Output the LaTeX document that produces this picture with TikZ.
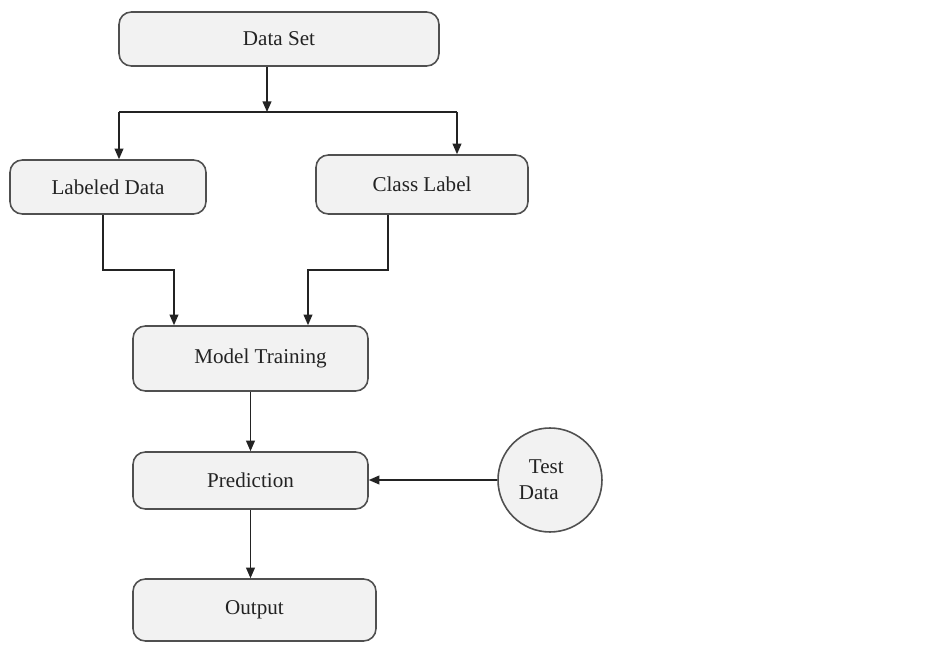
\documentclass[tikz,border=0pt]{standalone}
\usepackage{fontspec}
\setmainfont{Liberation Serif}
\usepackage{xcolor}
\usetikzlibrary{arrows.meta, positioning}
\definecolor{boxfill}{RGB}{242,242,242}
\definecolor{boxline}{RGB}{80,80,80}
\definecolor{inkgray}{RGB}{35,35,35}

\tikzset{
  flowbox/.style={draw=boxline, fill=boxfill, line width=0.9pt, rounded corners=7pt,
    font=\fontsize{12}{14}\selectfont, text=inkgray, inner sep=0pt},
  flowarrow/.style={-{Triangle[length=6pt, width=5pt]}, inkgray, line width=0.8pt}
}

\begin{document}
\begin{tikzpicture}[x=0.02cm, y=-0.02cm]
        \useasboundingbox (0,0) rectangle (931,651);
        % Boxes
        \node[flowbox, minimum width=6.4cm, minimum height=1.08cm] (dset) at (279,39) {Data Set};
        \node[flowbox, minimum width=3.92cm, minimum height=1.08cm] (ldata) at (108,187) {Labeled Data};
        \node[flowbox, minimum width=4.24cm, minimum height=1.18cm] (clabel) at (422,184.5) {Class Label};
        \node[flowbox, minimum width=4.7cm, minimum height=1.3cm] (mtrain) at (250.5,358.5) {\hspace{0.4cm}Model Training};
        \node[flowbox, minimum width=4.7cm, minimum height=1.14cm] (pred) at (250.5,480.5) {Prediction};
        \node[flowbox, minimum width=4.86cm, minimum height=1.24cm] (outp) at (254.5,610) {Output};
        % Test data circle
        \node[flowbox, circle, minimum size=2.08cm, align=left,
          font=\fontsize{12}{15}\selectfont] (tdata) at (550,480) {\hspace{-0.35cm}\hspace{0.2cm}Test\\\hspace{-0.35cm}Data};
        % Split below data set
        \coordinate (split) at (267,112);
        \coordinate (lsplit) at (119,112);
        \coordinate (rsplit) at (457,112);
        \draw[flowarrow] (dset.south -| split) -- (split);
        \draw[inkgray, line width=0.8pt] (lsplit) -- (rsplit);
        \draw[flowarrow] (lsplit) -- (lsplit |- ldata.north);
        \draw[flowarrow] (rsplit) -- (rsplit |- clabel.north);
        % Join into model training
        \coordinate (lbend) at (103,270);
        \coordinate (lin) at (174,270);
        \coordinate (rbend) at (388,270);
        \coordinate (rin) at (308,270);
        \draw[flowarrow] (ldata.south -| lbend) -- (lbend) -- (lin) -- (lin |- mtrain.north);
        \draw[flowarrow] (clabel.south -| rbend) -- (rbend) -- (rin) -- (rin |- mtrain.north);
        % Down the chain
        \draw[flowarrow] (mtrain.south) -- (pred.north);
        \draw[flowarrow] (pred.south) -- (pred.south |- outp.north);
        \draw[flowarrow] (tdata.west) -- (tdata.west -| pred.east);
      \end{tikzpicture}
\end{document}
